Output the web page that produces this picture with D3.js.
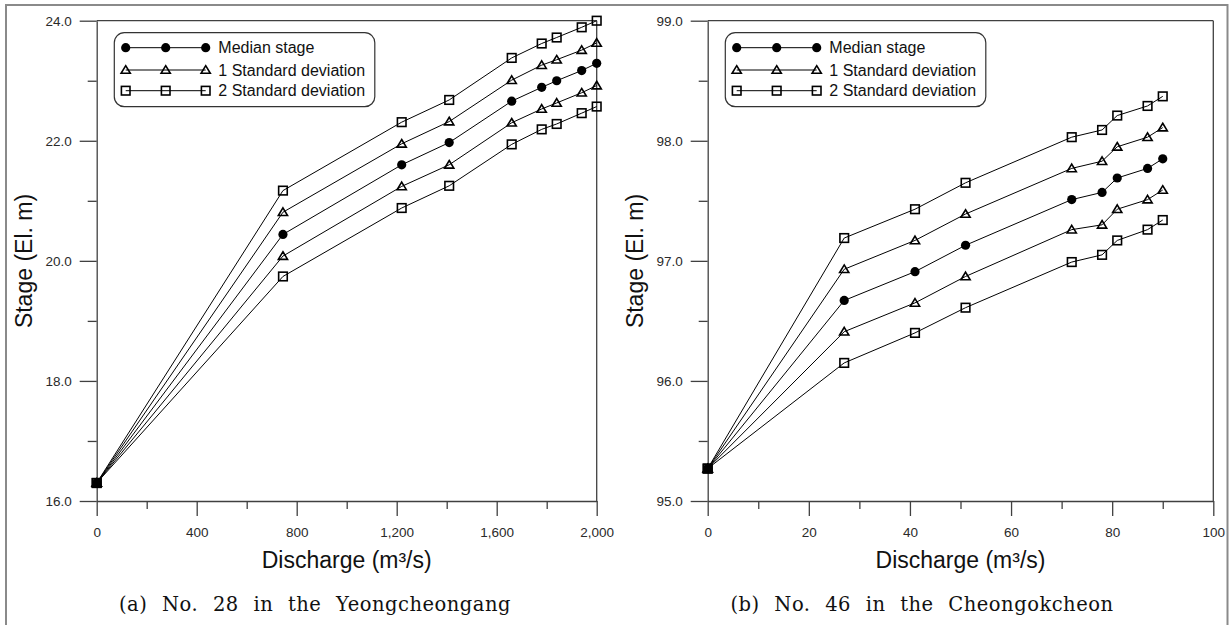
<!DOCTYPE html>
<html>
<head>
<meta charset="utf-8">
<script src="https://cdn.jsdelivr.net/npm/d3@7/dist/d3.min.js"></script>
<style>
  html, body { margin: 0; padding: 0; background: #fff; }
  svg { display: block; }
  .tick text { font-family: "Liberation Sans", Arial, sans-serif; }
</style>
</head>
<body>
<svg id="chart" width="1229" height="625"></svg>
<script>
// Stage–discharge curves: (a) No. 28 in the Yeongcheongang
const leftDischarge = [0, 745, 1220, 1410, 1660, 1780, 1840, 1940, 2000];
const leftMedian    = [16.3, 20.44, 21.60, 21.97, 22.66, 22.89, 23.00, 23.17, 23.29];
const leftPlus1SD   = [16.3, 20.81, 21.95, 22.32, 23.01, 23.26, 23.35, 23.51, 23.63];
const leftMinus1SD  = [16.3, 20.08, 21.24, 21.60, 22.30, 22.53, 22.63, 22.80, 22.92];
const leftPlus2SD   = [16.3, 21.17, 22.31, 22.68, 23.38, 23.62, 23.72, 23.89, 24.00];
const leftMinus2SD  = [16.3, 19.74, 20.88, 21.25, 21.94, 22.19, 22.28, 22.46, 22.57];
const leftXTicks = [0, 400, 800, 1200, 1600, 2000];
const leftXMinor = [200, 600, 1000, 1400, 1800];
const leftYTicks = [16, 18, 20, 22, 24];
const leftYMinor = [17, 19, 21, 23];

// (b) No. 46 in the Cheongokcheon
const rightDischarge = [0, 27, 41, 51, 72, 78, 81, 87, 90];
const rightMedian    = [95.27, 96.67, 96.91, 97.13, 97.51, 97.57, 97.69, 97.77, 97.85];
const rightPlus1SD   = [95.27, 96.93, 97.17, 97.39, 97.77, 97.83, 97.95, 98.03, 98.11];
const rightMinus1SD  = [95.27, 96.41, 96.65, 96.87, 97.26, 97.30, 97.43, 97.51, 97.59];
const rightPlus2SD   = [95.27, 97.19, 97.43, 97.65, 98.03, 98.09, 98.21, 98.29, 98.37];
const rightMinus2SD  = [95.27, 96.15, 96.40, 96.61, 96.99, 97.05, 97.17, 97.26, 97.34];
const rightXTicks = [0, 20, 40, 60, 80, 100];
const rightXMinor = [10, 30, 50, 70, 90];
const rightYTicks = [95, 96, 97, 98, 99];
const rightYMinor = [95.5, 96.5, 97.5, 98.5];

const legendLabels = ["Median stage", "1 Standard deviation", "2 Standard deviation"];
const captions = ["(a) No. 28 in the Yeongcheongang", "(b) No. 46 in the Cheongokcheon"];
const xTitle = "Discharge (m\u00B3/s)";
const yTitle = "Stage (El. m)";

const SANS = '"Liberation Sans", Arial, sans-serif';
const SERIF = '"DejaVu Serif", "Liberation Serif", serif';
const AXIS = "#404040";

const svg = d3.select("#chart");

// outer frame
svg.append("rect")
  .attr("x", 6).attr("y", 5).attr("width", 1221.5).attr("height", 630)
  .attr("fill", "none").attr("stroke", "#8a8a8a").attr("stroke-width", 2);

function marker(g, kind, x, y) {
  if (kind === "circle") {
    g.append("circle").attr("cx", x).attr("cy", y).attr("r", 4.6).attr("fill", "#000");
  } else if (kind === "triangle") {
    g.append("path")
      .attr("d", `M${x},${y - 4.3}L${x + 4.6},${y + 3.3}L${x - 4.6},${y + 3.3}Z`)
      .attr("fill", "none").attr("stroke", "#000").attr("stroke-width", 1.6);
  } else {
    g.append("rect").attr("x", x - 4.3).attr("y", y - 4.3).attr("width", 8.6).attr("height", 8.6)
      .attr("fill", "none").attr("stroke", "#000").attr("stroke-width", 1.6);
  }
}

function panel(opt) {
  const x = d3.scaleLinear().domain(opt.xDomain).range(opt.xRange);
  const y = d3.scaleLinear().domain(opt.yDomain).range([501, 20.7]);
  const g = svg.append("g");

  // minor ticks
  g.append("g").attr("transform", `translate(0,${y.range()[0]})`)
    .call(d3.axisBottom(x).tickValues(opt.xMinor).tickSize(8).tickFormat(""))
    .call(a => a.select(".domain").remove())
    .selectAll("line").attr("stroke", AXIS).attr("stroke-width", 1.3);
  g.append("g").attr("transform", `translate(${x.range()[0]},0)`)
    .call(d3.axisLeft(y).tickValues(opt.yMinor).tickSize(9).tickFormat(""))
    .call(a => a.select(".domain").remove())
    .selectAll("line").attr("stroke", AXIS).attr("stroke-width", 1.3);

  // major ticks and labels
  const xa = g.append("g").attr("transform", `translate(0,${y.range()[0]})`)
    .call(d3.axisBottom(x).tickValues(opt.xTicks).tickSize(15).tickPadding(11)
      .tickSizeOuter(0).tickFormat(opt.xFormat));
  const ya = g.append("g").attr("transform", `translate(${x.range()[0]},0)`)
    .call(d3.axisLeft(y).tickValues(opt.yTicks).tickSize(17).tickPadding(8)
      .tickSizeOuter(0).tickFormat(d3.format(".1f")));
  [xa, ya].forEach(a => {
    a.select(".domain").attr("stroke", AXIS).attr("stroke-width", 1.3);
    a.selectAll("line").attr("stroke", AXIS).attr("stroke-width", 1.3);
    a.selectAll("text").attr("fill", "#2a2a2a").style("font-size", "13.5px");
  });

  // top and right borders of the plot box
  g.append("line").attr("x1", x.range()[0]).attr("x2", x.range()[1])
    .attr("y1", y.range()[1]).attr("y2", y.range()[1]).attr("stroke", AXIS).attr("stroke-width", 1.3);
  g.append("line").attr("x1", x.range()[1]).attr("x2", x.range()[1])
    .attr("y1", y.range()[1]).attr("y2", y.range()[0]).attr("stroke", AXIS).attr("stroke-width", 1.3);

  // series
  const series = [
    { v: opt.m2, k: "square" }, { v: opt.m1, k: "triangle" }, { v: opt.med, k: "circle" },
    { v: opt.p1, k: "triangle" }, { v: opt.p2, k: "square" }
  ];
  const line = d3.line().x(d => x(d[0])).y(d => y(d[1]));
  series.forEach(s => {
    const pts = opt.q.map((q, i) => [q, s.v[i]]);
    g.append("path").attr("d", line(pts)).attr("fill", "none").attr("stroke", "#000").attr("stroke-width", 1);
  });
  series.forEach(s => {
    opt.q.forEach((q, i) => marker(g, s.k, x(q), y(s.v[i])));
  });

  // legend
  const lx = x.range()[0] + 17.6, ly = 32.7;
  const lg = g.append("g");
  lg.append("rect").attr("x", lx).attr("y", ly).attr("width", 260.5).attr("height", 74)
    .attr("rx", 10).attr("fill", "#fff").attr("stroke", "#333").attr("stroke-width", 1.2);
  const kinds = ["circle", "triangle", "square"];
  const rows = [ly + 15, ly + 37.3, ly + 58];
  kinds.forEach((k, i) => {
    lg.append("line").attr("x1", lx + 11.4).attr("x2", lx + 91.4)
      .attr("y1", rows[i]).attr("y2", rows[i]).attr("stroke", "#000").attr("stroke-width", 1);
    [11.4, 51.4, 91.4].forEach(dx => marker(lg, k, lx + dx, rows[i]));
    lg.append("text").attr("x", lx + 104).attr("y", rows[i]).attr("dy", "0.35em")
      .attr("font-family", SANS).attr("font-size", 16).attr("fill", "#111").text(legendLabels[i]);
  });

  // axis titles
  g.append("text").attr("x", (x.range()[0] + x.range()[1]) / 2).attr("y", 568)
    .attr("text-anchor", "middle").attr("font-family", SANS).attr("font-size", 23)
    .attr("fill", "#111").text(xTitle);
  g.append("text").attr("transform", `translate(${x.range()[0] - 65},261) rotate(-90)`)
    .attr("text-anchor", "middle").attr("font-family", SANS).attr("font-size", 23)
    .attr("fill", "#111").text(yTitle);

  // caption
  g.append("text").attr("x", opt.capX).attr("y", 611).attr("text-anchor", "middle")
    .attr("font-family", SERIF).attr("font-size", 19.5).attr("word-spacing", 8)
    .attr("letter-spacing", 0.5).attr("fill", "#111").text(opt.caption);
}

panel({
  xDomain: [0, 2000], xRange: [96.7, 596.7], yDomain: [16, 24],
  xTicks: leftXTicks, xMinor: leftXMinor, yTicks: leftYTicks, yMinor: leftYMinor,
  xFormat: d3.format(","),
  q: leftDischarge, med: leftMedian, p1: leftPlus1SD, m1: leftMinus1SD, p2: leftPlus2SD, m2: leftMinus2SD,
  caption: captions[0], capX: 315
});
panel({
  xDomain: [0, 100], xRange: [707.7, 1213.3], yDomain: [95, 99],
  xTicks: rightXTicks, xMinor: rightXMinor, yTicks: rightYTicks, yMinor: rightYMinor,
  xFormat: d3.format("d"),
  q: rightDischarge, med: rightMedian, p1: rightPlus1SD, m1: rightMinus1SD, p2: rightPlus2SD, m2: rightMinus2SD,
  caption: captions[1], capX: 922
});
</script>
</body>
</html>
